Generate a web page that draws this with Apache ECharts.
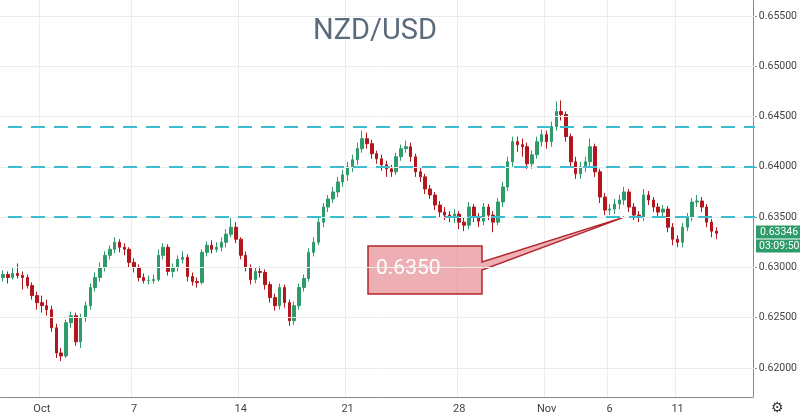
<!DOCTYPE html>
<html><head><meta charset="utf-8">
<script src="https://cdn.jsdelivr.net/npm/echarts@6/dist/echarts.min.js"></script>
<style>html,body{margin:0;padding:0;background:#fff}#c{width:800px;height:418px}</style>
</head><body><div id="c"></div>
<script>
const opens=[.6290,.6293,.6290,.6294,.6292,.6290,.6282,.6272,.6265,.6262,.6258,.6240,.6215,.6212,.6245,.6252,.6226,.6250,.6262,.6280,
.6290,.6300,.6312,.6318,.6325,.6320,.6318,.6305,.6300,.6290,.6287,.6287,.6288,.6312,.6320,.6296,.6300,.6308,.6310,.6291,
.6286,.6285,.6315,.6322,.6318,.6320,.6325,.6333,.6340,.6328,.6312,.6300,.6288,.6296,.6295,.6283,.6270,.6262,.6280,.6265,
.6247,.6262,.6280,.6289,.6315,.6325,.6345,.6360,.6368,.6375,.6385,.6392,.6400,.6407,.6418,.6428,.6423,.6413,.6408,.6402,
.6398,.6395,.6410,.6418,.6420,.6410,.6395,.6390,.6378,.6372,.6362,.6355,.6352,.6350,.6353,.6345,.6342,.6360,.6350,.6346,
.6360,.6352,.6345,.6365,.6380,.6405,.6425,.6422,.6420,.6403,.6412,.6425,.6432,.6425,.6440,.6455,.6452,.6430,.6405,.6393,
.6400,.6405,.6420,.6395,.6370,.6357,.6358,.6363,.6367,.6375,.6360,.6352,.6350,.6372,.6367,.6360,.6355,.6358,.6340,.6328,
.6325,.6340,.6350,.6365,.6366,.6360,.6345,.6336];
const closes=[.6293,.6290,.6294,.6292,.6290,.6282,.6272,.6265,.6262,.6258,.6240,.6215,.6212,.6245,.6252,.6226,.6250,.6262,.6280,.6290,
.6300,.6312,.6318,.6325,.6320,.6318,.6305,.6300,.6290,.6287,.6287,.6288,.6312,.6320,.6296,.6300,.6308,.6310,.6291,.6286,
.6285,.6315,.6322,.6318,.6320,.6325,.6333,.6340,.6328,.6312,.6300,.6288,.6296,.6295,.6283,.6270,.6262,.6280,.6265,.6247,
.6262,.6280,.6289,.6315,.6325,.6345,.6360,.6368,.6375,.6385,.6392,.6400,.6407,.6418,.6428,.6423,.6413,.6408,.6402,.6398,
.6395,.6410,.6418,.6420,.6410,.6395,.6390,.6378,.6372,.6362,.6355,.6352,.6350,.6353,.6345,.6342,.6360,.6350,.6346,.6360,
.6352,.6345,.6365,.6380,.6405,.6425,.6422,.6420,.6403,.6412,.6425,.6432,.6425,.6440,.6455,.6452,.6430,.6405,.6393,.6400,
.6405,.6420,.6395,.6370,.6357,.6358,.6363,.6367,.6375,.6360,.6352,.6350,.6372,.6367,.6360,.6355,.6358,.6340,.6328,.6325,
.6340,.6350,.6365,.6366,.6360,.6345,.6336,.6334];
const highs=[.6297,.6296,.6300,.6304,.6296,.6293,.6285,.6276,.6272,.6268,.6262,.6244,.6220,.6248,.6256,.6255,.6254,.6266,.6284,.6295,
.6305,.6316,.6322,.6330,.6328,.6324,.6320,.6309,.6303,.6294,.6292,.6293,.6318,.6324,.6323,.6304,.6312,.6316,.6313,.6295,
.6290,.6318,.6326,.6327,.6325,.6330,.6338,.6350,.6345,.6330,.6316,.6303,.6300,.6301,.6298,.6286,.6274,.6284,.6283,.6268,
.6266,.6284,.6293,.6319,.6330,.6350,.6364,.6372,.6380,.6390,.6397,.6405,.6412,.6424,.6436,.6434,.6427,.6416,.6412,.6406,
.6402,.6414,.6422,.6426,.6424,.6413,.6399,.6393,.6382,.6375,.6366,.6360,.6356,.6358,.6356,.6350,.6365,.6363,.6354,.6364,
.6363,.6356,.6369,.6385,.6410,.6430,.6430,.6428,.6424,.6416,.6430,.6437,.6436,.6445,.6465,.6466,.6455,.6433,.6410,.6405,
.6410,.6428,.6423,.6398,.6374,.6363,.6368,.6372,.6380,.6378,.6364,.6356,.6378,.6376,.6370,.6364,.6362,.6361,.6344,.6332,
.6344,.6354,.6369,.6372,.6370,.6363,.6348,.6340];
const lows=[.6286,.6284,.6288,.6289,.6278,.6279,.6268,.6258,.6255,.6252,.6236,.6210,.6207,.6210,.6240,.6222,.6220,.6246,.6258,.6276,
.6286,.6296,.6308,.6314,.6315,.6312,.6300,.6295,.6286,.6284,.6283,.6284,.6286,.6308,.6292,.6290,.6296,.6304,.6286,.6282,
.6280,.6283,.6311,.6314,.6315,.6316,.6320,.6330,.6324,.6308,.6296,.6283,.6284,.6290,.6278,.6265,.6257,.6258,.6260,.6242,
.6243,.6258,.6276,.6286,.6311,.6322,.6340,.6355,.6364,.6370,.6380,.6386,.6395,.6402,.6414,.6418,.6408,.6403,.6396,.6390,
.6390,.6392,.6406,.6414,.6405,.6390,.6385,.6373,.6368,.6357,.6350,.6347,.6345,.6344,.6338,.6336,.6338,.6345,.6340,.6342,
.6347,.6335,.6342,.6360,.6376,.6400,.6415,.6410,.6398,.6398,.6408,.6420,.6418,.6420,.6436,.6446,.6425,.6400,.6388,.6388,
.6395,.6400,.6390,.6364,.6352,.6352,.6353,.6358,.6362,.6355,.6347,.6345,.6346,.6362,.6355,.6350,.6350,.6335,.6322,.6320,
.6320,.6336,.6346,.6360,.6355,.6340,.6330,.6328];
const levels=[0.6440,0.6400,0.6350];
const priceTicks=[0.620,0.625,0.630,0.635,0.640,0.645,0.650,0.655];
const dateLabels={8:'Oct',27:'7',49:'14',71:'21',94:'28',112:'Nov',125:'6',139:'11'};
const lastPrice='0.63346', countdown='03:09:50', callout='0.6350';
const totalSlots=155;

const cats=[];for(let i=0;i<totalSlots;i++)cats.push('c'+i);
const candles=opens.map((o,i)=>[o,closes[i],lows[i],highs[i]]);

const chart=echarts.init(document.getElementById('c'));
chart.setOption({
  animation:false,
  title:{text:'NZD/USD',left:370,top:12,textAlign:'center',textStyle:{fontFamily:'Roboto',fontSize:29,fontWeight:'normal',color:'#5b6b7c'}},
  grid:{left:0,right:45,top:0,bottom:21},
  xAxis:{type:'category',data:cats,boundaryGap:true,
    axisLine:{show:true,lineStyle:{color:'#888'}},axisTick:{show:false},
    axisLabel:{interval:0,formatter:(v,i)=>dateLabels[i]||'',color:'#444',fontSize:11,fontFamily:'Roboto',margin:7},
    splitLine:{show:true,interval:(i)=>dateLabels[i]!==undefined,lineStyle:{color:'#ececec'}}},
  yAxis:{type:'value',position:'right',min:0.61712,max:0.65658,scale:true,
    axisLine:{show:true,lineStyle:{color:'#888'}},
    axisTick:{show:true,customValues:priceTicks,length:4,lineStyle:{color:'#888'}},
    axisLabel:{customValues:priceTicks,formatter:v=>v.toFixed(5),color:'#444',fontSize:10.5,fontFamily:'Roboto',margin:6},
    splitLine:{show:false}},
  series:[
   {type:'line',data:[],z:0,markLine:{silent:true,symbol:'none',label:{show:false},lineStyle:{color:'#ececec',type:'solid',width:1},
     data:priceTicks.map(v=>[{coord:[cats[0],v],x:0},{coord:[cats[0],v],x:755}])}},
   {type:'candlestick',data:candles,barWidth:3,z:3,
    itemStyle:{color:'#2e9b6a',color0:'#b3161d',borderColor:'#2e9b6a',borderColor0:'#b3161d',borderWidth:1},
    markLine:{silent:true,symbol:'none',label:{show:false},
     lineStyle:{color:'#3cbdd0',type:[14,9],width:2},
     data:levels.map(v=>[{coord:[cats[0],v],x:8},{coord:[cats[0],v],x:755}])}}]
});
const tip=chart.convertToPixel({xAxisIndex:0,yAxisIndex:0},[cats[128],levels[2]]);
const lp=chart.convertToPixel({yAxisIndex:0},parseFloat(lastPrice));
chart.setOption({graphic:[
  {type:'polygon',shape:{points:[[368,246],[482,246],[482,262],[tip[0],tip[1]],[482,270],[482,294],[368,294]]},
   style:{fill:'rgba(222,110,116,0.55)',stroke:'#b2262d',lineWidth:1.5}},
  {type:'text',left:376,top:258,style:{text:callout,fill:'#fff',font:'21px Roboto'}},
  {type:'rect',shape:{x:756,y:lp-7,width:44,height:13},style:{fill:'#2e9b6a'}},
  {type:'text',x:760,y:lp-6,style:{text:lastPrice,fill:'#fff',font:'10.5px Roboto'}},
  {type:'rect',shape:{x:756,y:lp+7,width:44,height:13},style:{fill:'#2e9b6a'}},
  {type:'text',x:759,y:lp+8,style:{text:countdown,fill:'#fff',font:'10.5px Roboto'}},
  {type:'text',x:771,y:401,style:{text:'⚙',fill:'#333',font:'14px DejaVu Sans'}}
]});
</script></body></html>
